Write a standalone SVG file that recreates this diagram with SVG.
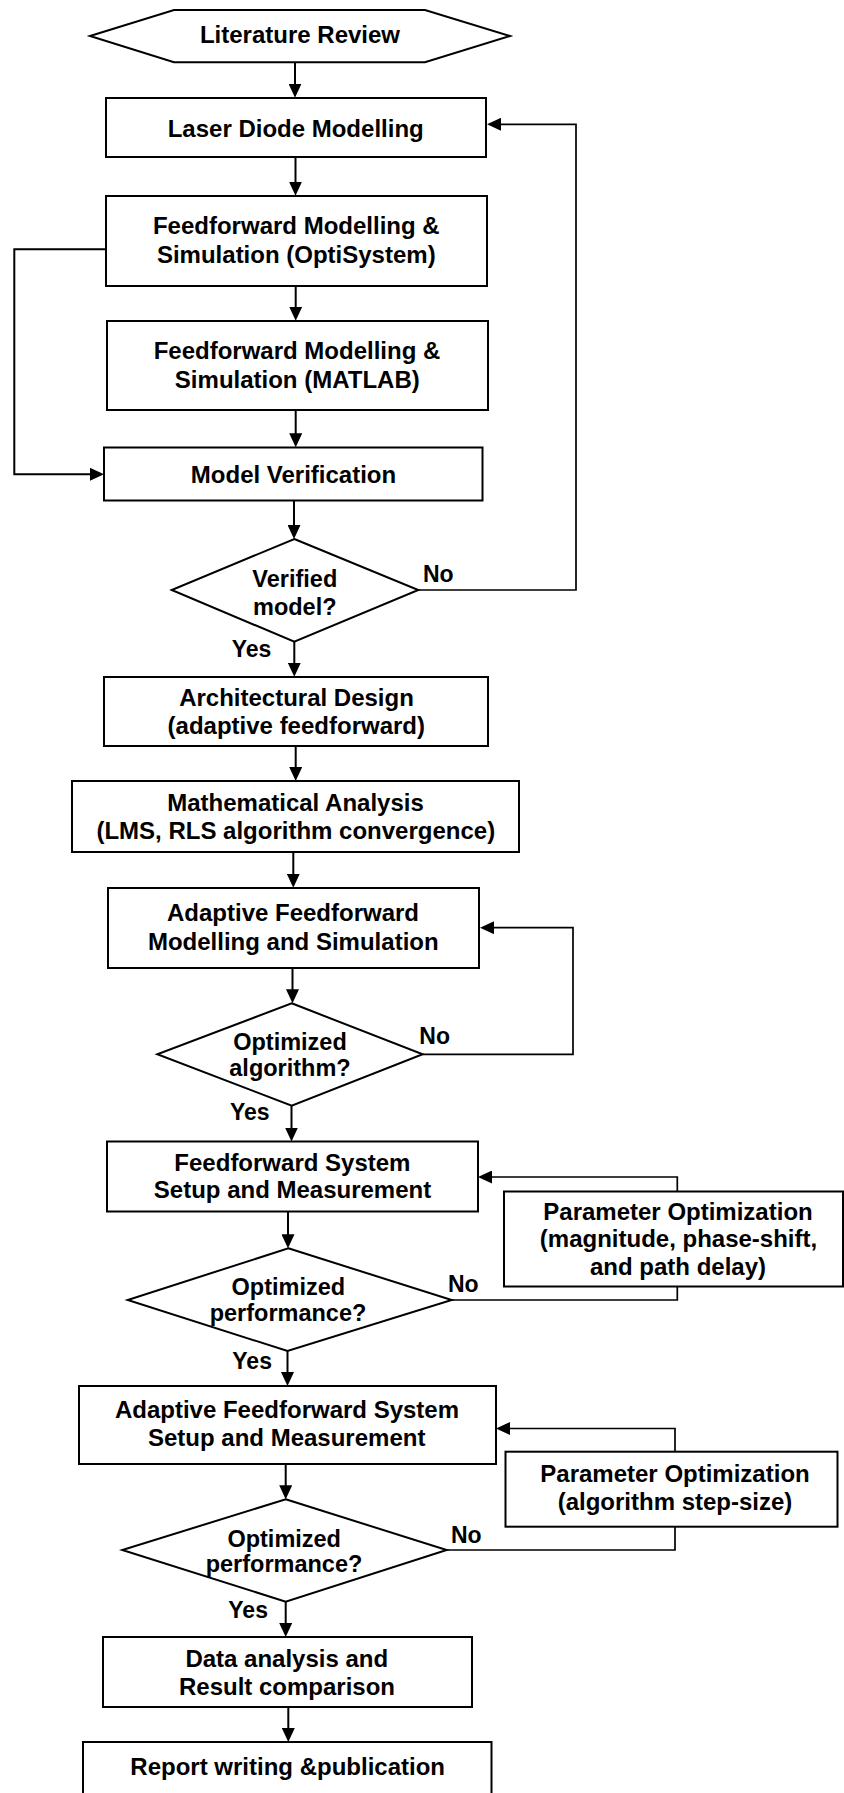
<svg xmlns="http://www.w3.org/2000/svg" width="844" height="1793" viewBox="0 0 844 1793">
<style>
.b{fill:#fff;stroke:#000;stroke-width:2}
.t{font-family:"Liberation Sans",Arial,sans-serif;font-weight:bold;font-size:24px;fill:#000;text-anchor:middle}
.d{font-family:"Liberation Sans",Arial,sans-serif;font-weight:bold;font-size:23.5px;fill:#000;text-anchor:middle}
.l{font-family:"Liberation Sans",Arial,sans-serif;font-weight:bold;font-size:23px;fill:#000}
.c{fill:none;stroke:#000;stroke-width:2}
.f{fill:none;stroke:#000;stroke-width:1.7}
</style>
<defs>
<marker id="ah" markerWidth="14" markerHeight="13" refX="4" refY="6.5" orient="auto" markerUnits="userSpaceOnUse"><path d="M0,0 L14,6.5 L0,13 z" fill="#000"/></marker>
</defs>
<rect width="844" height="1793" fill="#fff"/>
<g id="connectors">
<path class="c" d="M295,62.3 V87.7" marker-end="url(#ah)"/>
<path class="c" d="M295.5,157 V185.7" marker-end="url(#ah)"/>
<path class="c" d="M295.7,286 V310.7" marker-end="url(#ah)"/>
<path class="c" d="M295.7,410.3 V437.3" marker-end="url(#ah)"/>
<path class="c" d="M294,500.5 V529" marker-end="url(#ah)"/>
<path class="c" d="M294.3,641.7 V666.7" marker-end="url(#ah)"/>
<path class="c" d="M295.7,746 V771" marker-end="url(#ah)"/>
<path class="c" d="M293.3,852.3 V877.7" marker-end="url(#ah)"/>
<path class="c" d="M292.5,968.3 V993.3" marker-end="url(#ah)"/>
<path class="c" d="M291.5,1105.7 V1131.5" marker-end="url(#ah)"/>
<path class="c" d="M288,1211.5 V1238.3" marker-end="url(#ah)"/>
<path class="c" d="M287.5,1351 V1376" marker-end="url(#ah)"/>
<path class="c" d="M285.7,1464.3 V1489.3" marker-end="url(#ah)"/>
<path class="c" d="M285.7,1601.7 V1627" marker-end="url(#ah)"/>
<path class="c" d="M288.3,1707.3 V1732" marker-end="url(#ah)"/>
<path class="c" d="M106,249.3 H14.3 V474.3 H94" marker-end="url(#ah)"/>
<path class="f" d="M418.3,590 H576 V124.3 H497" marker-end="url(#ah)"/>
<path class="f" d="M422.7,1054.3 H573 V927.7 H490" marker-end="url(#ah)"/>
<path class="f" d="M451.7,1300 H677.3 V1286.5"/>
<path class="f" d="M677.3,1191.5 V1177 H488" marker-end="url(#ah)"/>
<path class="f" d="M446.7,1550 H675 V1526.7"/>
<path class="f" d="M675,1451.7 V1428.5 H506" marker-end="url(#ah)"/>
</g>
<g id="literature-review">
<polygon class="b" points="90,36 174,10 425,10 510,36 425,62.3 174,62.3"/>
<text class="t" x="300" y="43">Literature Review</text>
</g>
<g id="laser-diode-modelling">
<rect class="b" x="106" y="98" width="380" height="59"/>
<text class="t" x="295.7" y="136.5">Laser Diode Modelling</text>
</g>
<g id="ff-optisystem">
<rect class="b" x="106" y="196" width="381" height="90"/>
<text class="t" x="296.3" y="234.3">Feedforward Modelling &amp;</text>
<text class="t" x="296.3" y="262.5">Simulation (OptiSystem)</text>
</g>
<g id="ff-matlab">
<rect class="b" x="107" y="321" width="381" height="89"/>
<text class="t" x="297" y="359.3">Feedforward Modelling &amp;</text>
<text class="t" x="297.3" y="388">Simulation (MATLAB)</text>
</g>
<g id="model-verification">
<rect class="b" x="104" y="447.5" width="378.5" height="53"/>
<text class="t" x="293.5" y="482.5">Model Verification</text>
</g>
<g id="verified-model">
<polygon class="b" points="294.3,539 418.3,590 294.3,641.7 171.7,590"/>
<text class="d" x="294.8" y="587">Verified</text>
<text class="d" x="294.8" y="614.5">model?</text>
</g>
<g id="architectural-design">
<rect class="b" x="104" y="677" width="384" height="69"/>
<text class="t" x="296.5" y="705.7">Architectural Design</text>
<text class="t" x="296.3" y="734">(adaptive feedforward)</text>
</g>
<g id="mathematical-analysis">
<rect class="b" x="72" y="781" width="447" height="71"/>
<text class="t" x="295.5" y="810.7">Mathematical Analysis</text>
<text class="t" x="295.8" y="839.3">(LMS, RLS algorithm convergence)</text>
</g>
<g id="adaptive-ff-modelling">
<rect class="b" x="108" y="888" width="371" height="80"/>
<text class="t" x="293" y="921">Adaptive Feedforward</text>
<text class="t" x="293.3" y="950">Modelling and Simulation</text>
</g>
<g id="optimized-algorithm">
<polygon class="b" points="291.7,1003.3 422.7,1054.3 291.7,1105.7 157.3,1054.3"/>
<text class="d" x="290" y="1050">Optimized</text>
<text class="d" x="290" y="1076">algorithm?</text>
</g>
<g id="ff-system-setup">
<rect class="b" x="107" y="1141.5" width="371" height="70"/>
<text class="t" x="292.4" y="1171">Feedforward System</text>
<text class="t" x="292.5" y="1198.3">Setup and Measurement</text>
</g>
<g id="parameter-optimization-1">
<rect class="b" x="504" y="1191.5" width="339" height="95"/>
<text class="t" x="678" y="1220">Parameter Optimization</text>
<text class="t" x="678.5" y="1247.3">(magnitude, phase-shift,</text>
<text class="t" x="678" y="1275">and path delay)</text>
</g>
<g id="optimized-performance-1">
<polygon class="b" points="288.3,1248.3 451.7,1300 287.5,1351 127.7,1300"/>
<text class="d" x="288.3" y="1295">Optimized</text>
<text class="d" x="288" y="1321">performance?</text>
</g>
<g id="adaptive-ff-system-setup">
<rect class="b" x="79" y="1386" width="417" height="78"/>
<text class="t" x="287" y="1418.3">Adaptive Feedforward System</text>
<text class="t" x="286.7" y="1446">Setup and Measurement</text>
</g>
<g id="parameter-optimization-2">
<rect class="b" x="505.5" y="1451.7" width="332" height="75"/>
<text class="t" x="675" y="1481.7">Parameter Optimization</text>
<text class="t" x="675" y="1510">(algorithm step-size)</text>
</g>
<g id="optimized-performance-2">
<polygon class="b" points="285.7,1499.3 446.7,1550 285.7,1601.7 122.3,1550"/>
<text class="d" x="284.2" y="1546.7">Optimized</text>
<text class="d" x="284" y="1571.7">performance?</text>
</g>
<g id="data-analysis">
<rect class="b" x="103" y="1637" width="369" height="70"/>
<text class="t" x="286.8" y="1666.7">Data analysis and</text>
<text class="t" x="287" y="1695">Result comparison</text>
</g>
<g id="report-writing">
<rect class="b" x="83" y="1742" width="408.5" height="52"/>
<text class="t" x="287.7" y="1775">Report writing &amp;publication</text>
</g>
<g id="labels">
<text class="l" x="423" y="581.7">No</text>
<text class="l" x="231.7" y="656.7">Yes</text>
<text class="l" x="419.3" y="1044">No</text>
<text class="l" x="230" y="1120">Yes</text>
<text class="l" x="448" y="1291.5">No</text>
<text class="l" x="232.3" y="1369.3">Yes</text>
<text class="l" x="451" y="1543.3">No</text>
<text class="l" x="228.3" y="1617.7">Yes</text>
</g>
</svg>
